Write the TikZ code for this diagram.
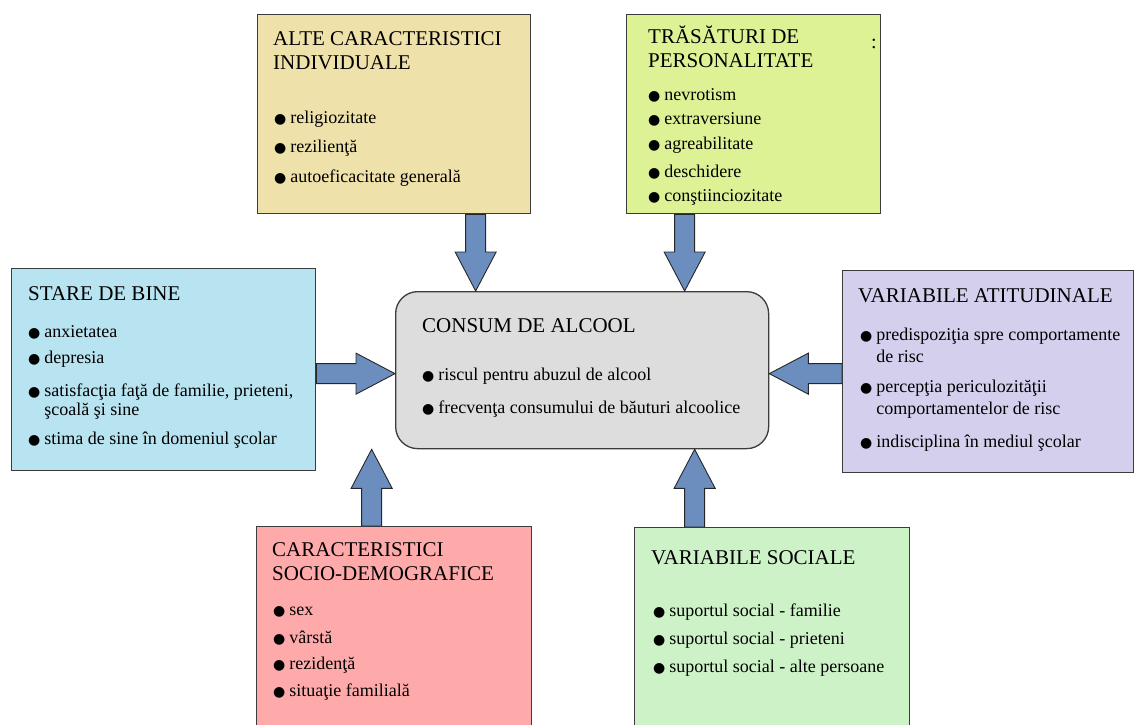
\documentclass[tikz,border=0pt]{standalone}
\usepackage{fontspec}
\setmainfont{Liberation Serif}
\newfontfamily\symb{DejaVu Sans}
\usetikzlibrary{calc}

\definecolor{altecol}{RGB}{238,225,170}
\definecolor{trascol}{RGB}{221,242,148}
\definecolor{starecol}{RGB}{184,227,240}
\definecolor{consumcol}{RGB}{221,221,221}
\definecolor{atitcol}{RGB}{213,207,238}
\definecolor{sociocol}{RGB}{255,170,170}
\definecolor{socialcol}{RGB}{205,242,199}
\definecolor{arrowcol}{RGB}{108,142,191}
\definecolor{edgecol}{RGB}{60,60,60}

\newcommand{\bul}{{\symb\fontsize{14}{14}\selectfont ●}\hspace{4pt}}
\newcommand{\hd}{\fontsize{21}{24}\selectfont}

\begin{document}
\begin{tikzpicture}[x=1pt, y=-1pt,
    box/.style={draw=edgecol, line width=1.3pt, anchor=north west, inner sep=0pt},
    title/.style={anchor=north west, align=left, inner sep=0pt, font=\hd},
    items/.style={anchor=north west, align=left, inner sep=0pt, font=\fontsize{18}{20}\selectfont},
    blockarrow/.style={draw=black!85, fill=arrowcol, line width=0.9pt,
      to path={($(\tikztostart)!10pt!90:(\tikztotarget)$)
        -- ($(\tikztotarget)!40.26pt!-14.38:(\tikztostart)$)
        -- ($(\tikztotarget)!44.06pt!-27.73:(\tikztostart)$)
        -- (\tikztotarget)
        -- ($(\tikztotarget)!44.06pt!27.73:(\tikztostart)$)
        -- ($(\tikztotarget)!40.26pt!14.38:(\tikztostart)$)
        -- ($(\tikztostart)!10pt!-90:(\tikztotarget)$) -- cycle}}]
  \useasboundingbox (0,0) rectangle (1135,725);
  \clip (0,0) rectangle (1135,725);

  % boxes
  \node[box, fill=altecol, minimum width=273pt, minimum height=199pt] (alte) at (257,14) {};
  \node[box, fill=trascol, minimum width=254pt, minimum height=199pt] (tras) at (626,14) {};
  \node[box, fill=starecol, minimum width=304pt, minimum height=202pt] (stare) at (11,268) {};
  \node[box, fill=consumcol, rounded corners=22pt, minimum width=373pt, minimum height=157pt] (consum) at (395,291) {};
  \node[box, fill=atitcol, minimum width=291pt, minimum height=202pt] (atit) at (842,270) {};
  \node[box, fill=sociocol, minimum width=275pt, minimum height=230pt] (socio) at (256,526) {};
  \node[box, fill=socialcol, minimum width=275pt, minimum height=230pt] (social) at (634,527) {};

  % texts
  \node[title] (alte-t) at ([shift={(16,17)}]alte.north west) {ALTE CARACTERISTICI\\INDIVIDUALE};
  \node[items] (alte-i) at ([shift={(17,97)}]alte.north west)
    {\bul religiozitate\\[9pt]\bul rezilienţă\\[10pt]\bul autoeficacitate generală};

  \node[title] (tras-t) at ([shift={(22,12)}]tras.north west) {TRĂSĂTURI DE\\PERSONALITATE};
  \node[items] (tras-i) at ([shift={(22,74)}]tras.north west)
    {\bul nevrotism\\[4pt]\bul extraversiune\\[5pt]\bul agreabilitate\\[8pt]\bul deschidere\\[4pt]\bul conştiinciozitate};
  \node[font=\fontsize{20}{20}\selectfont, inner sep=0pt] (tras-c) at ([shift={(248,30)}]tras.north west) {:};

  \node[title] (stare-t) at ([shift={(17,18)}]stare.north west) {STARE DE BINE};
  \node[items] (stare-i) at ([shift={(17,57)}]stare.north west)
    {\bul anxietatea\\[6pt]\bul depresia\\[13pt]\bul satisfacţia faţă de familie, prieteni,\\[-1pt]\phantom{\bul}şcoală şi sine\\[9pt]\bul stima de sine în domeniul şcolar};

  \node[title] (consum-t) at ([shift={(27,27)}]consum.north west) {CONSUM DE ALCOOL};
  \node[items] (consum-i) at ([shift={(27,77)}]consum.north west)
    {\bul riscul pentru abuzul de alcool\\[13pt]\bul frecvenţa consumului de băuturi alcoolice};

  \node[title] (atit-t) at ([shift={(16,18)}]atit.north west) {VARIABILE ATITUDINALE};
  \node[items] (atit-i) at ([shift={(18,58)}]atit.north west)
    {\bul predispoziţia spre comportamente\\[2pt]\phantom{\bul}de risc\\[10pt]\bul percepţia periculozităţii\\[2pt]\phantom{\bul}comportamentelor de risc\\[13pt]\bul indisciplina în mediul şcolar};

  \node[title] (socio-t) at ([shift={(16,16)}]socio.north west) {CARACTERISTICI\\SOCIO-DEMOGRAFICE};
  \node[items] (socio-i) at ([shift={(17,80)}]socio.north west)
    {\bul sex\\[8pt]\bul vârstă\\[6pt]\bul rezidenţă\\[7pt]\bul situaţie familială};

  \node[title] (social-t) at ([shift={(17,23)}]social.north west) {VARIABILE SOCIALE};
  \node[items] (social-i) at ([shift={(19,77)}]social.north west)
    {\bul suportul social - familie\\[8pt]\bul suportul social - prieteni\\[8pt]\bul suportul social - alte persoane};

  % arrow ends
  \coordinate (a1) at ([xshift=81.5pt]alte.south);
  \coordinate (a1t) at (a1 |- consum.north);
  \coordinate (a2) at ([xshift=-69pt]tras.south);
  \coordinate (a2t) at (a2 |- consum.north);
  \coordinate (a3) at ([yshift=-4pt]stare.east);
  \coordinate (a3t) at (a3 -| consum.west);
  \coordinate (a4) at ([yshift=-2pt]atit.east -| atit.west);
  \coordinate (a4t) at (a4 -| consum.east);
  \coordinate (a5) at ([xshift=-22.5pt]socio.north);
  \coordinate (a5t) at (a5 |- consum.south);
  \coordinate (a6) at ([xshift=-77.5pt]social.north);
  \coordinate (a6t) at (a6 |- consum.south);

  \draw[blockarrow] (a1) to (a1t);
  \draw[blockarrow] (a2) to (a2t);
  \draw[blockarrow] (a3) to (a3t);
  \draw[blockarrow] (a4) to (a4t);
  \draw[blockarrow] (a5) to (a5t);
  \draw[blockarrow] (a6) to (a6t);
\end{tikzpicture}
\end{document}
